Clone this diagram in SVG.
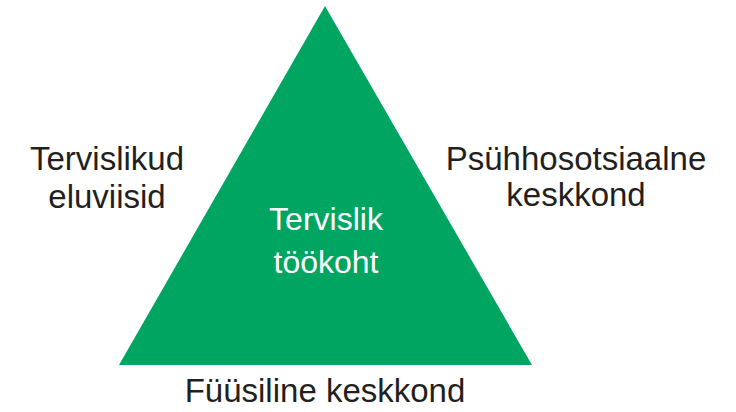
<svg xmlns="http://www.w3.org/2000/svg" width="736" height="412" viewBox="0 0 736 412">
  <style>
    .label { font-family: "Liberation Sans", Arial, sans-serif; font-size: 33px; fill: #231f20; text-anchor: middle; }
    .inner { font-family: "Liberation Sans", Arial, sans-serif; font-size: 32px; fill: #ffffff; text-anchor: middle; }
  </style>
  <rect width="736" height="412" fill="#ffffff"/>
  <g id="workplace">
    <polygon points="325,6 532,365 119,365" fill="#00a562"/>
    <text class="inner" x="326" y="230">Tervislik</text>
    <text class="inner" x="326" y="273">töökoht</text>
  </g>
  <g id="lifestyle">
    <text class="label" x="107" y="170">Tervislikud</text>
    <text class="label" x="107" y="208">eluviisid</text>
  </g>
  <g id="psychosocial">
    <text class="label" x="576" y="170">Psühhosotsiaalne</text>
    <text class="label" x="576" y="206">keskkond</text>
  </g>
  <g id="physical">
    <text class="label" x="325" y="402">Füüsiline keskkond</text>
  </g>
</svg>
